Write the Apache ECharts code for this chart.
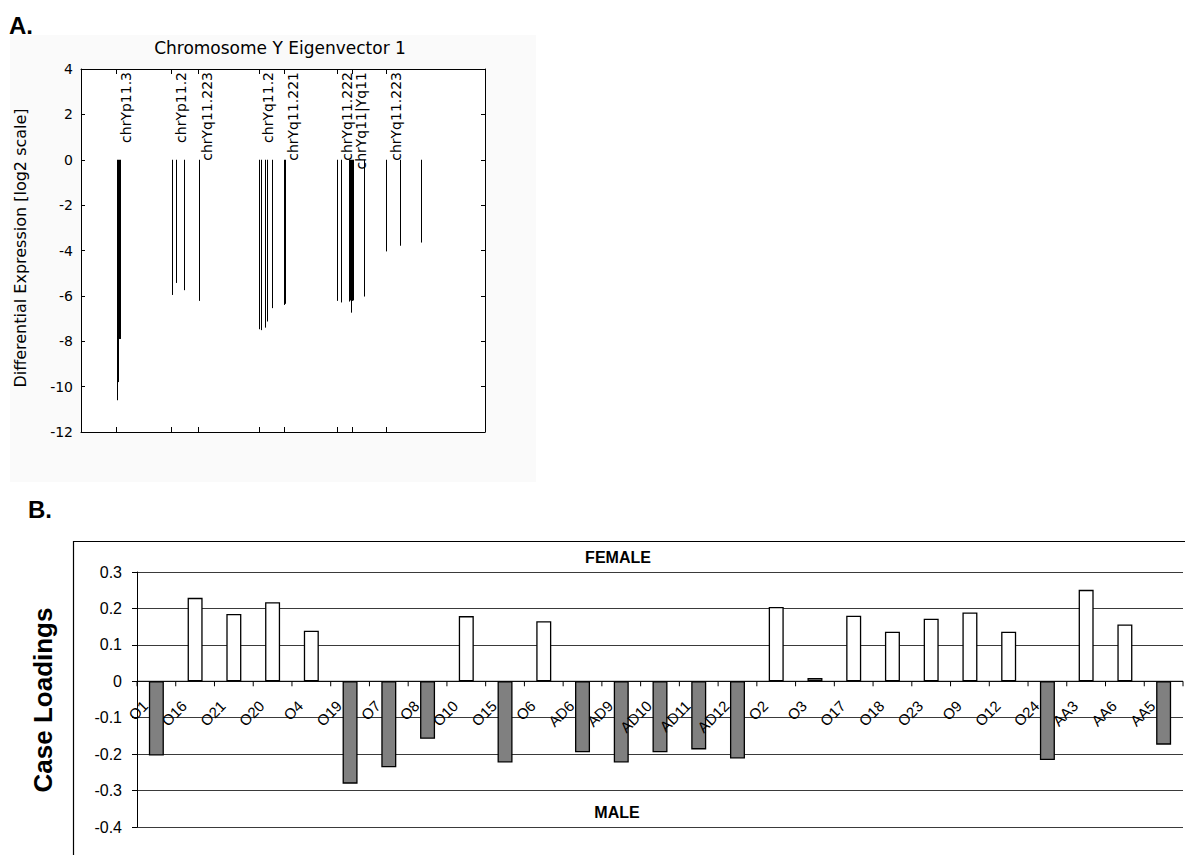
<!DOCTYPE html>
<html><head><meta charset="utf-8">
<script src="https://cdn.jsdelivr.net/npm/echarts@6/dist/echarts.min.js"></script>
<style>html,body{margin:0;padding:0;background:#fff}#c{width:1185px;height:855px}</style>
</head><body><div id="c"></div>
<script>
// ---------- Panel A: Chromosome Y Eigenvector 1 ----------
const chrTickPositions = [8.91, 22.52, 29.08, 44.06, 50.25, 63.61, 67.2, 75.74];
const chrTickLabels = ['chrYp11.3', 'chrYp11.2', 'chrYq11.223', 'chrYq11.2', 'chrYq11.221', 'chrYq11.222', 'chrYq11|Yq11', 'chrYq11.223'];
const probePositions = [9.03, 9.28, 9.53, 9.78,
  22.6, 23.7, 25.6, 29.3,
  44.06, 44.63, 45.72, 46.11, 47.35, 50.32, 50.62,
  63.54, 64.6, 66.34, 66.61, 66.86, 67.13, 67.4, 70.05,
  75.67, 79.03, 84.23];
const probeValues = [-10.6, -9.8, -7.9, -7.9,
  -5.96, -5.43, -5.75, -6.22,
  -7.47, -7.51, -7.40, -7.13, -6.54, -6.40, -6.35,
  -6.22, -6.29, -6.25, -6.2, -6.74, -6.22, -6.2, -6.03,
  -4.04, -3.79, -3.65];
const aYMin = -12, aYMax = 4, aYStep = 2;

// ---------- Panel B: Case loadings ----------
const caseNames = ['O1', 'O16', 'O21', 'O20', 'O4', 'O19', 'O7', 'O8', 'O10', 'O15', 'O6', 'AD6', 'AD9', 'AD10', 'AD11', 'AD12', 'O2', 'O3', 'O17', 'O18', 'O23', 'O9', 'O12', 'O24', 'AA3', 'AA6', 'AA5'];
const caseLoadings = [-0.204, 0.229, 0.185, 0.217, 0.139, -0.281, -0.236, -0.158, 0.179, -0.223, 0.165, -0.195, -0.223, -0.195, -0.187, -0.212, 0.204, 0.009, 0.180, 0.136, 0.172, 0.189, 0.136, -0.216, 0.251, 0.156, -0.174];
const caseSex = ['M', 'F', 'F', 'F', 'F', 'M', 'M', 'M', 'F', 'M', 'F', 'M', 'M', 'M', 'M', 'M', 'F', 'M', 'F', 'F', 'F', 'F', 'F', 'M', 'F', 'F', 'M'];
const bYMin = -0.4, bYMax = 0.3, bYStep = 0.1;

const chart = echarts.init(document.getElementById('c'), null, {renderer: 'svg'});

const fontA = '"DejaVu Sans", sans-serif';
const fontB = '"Liberation Sans", Arial, sans-serif';
const axA = {
  axisLine: {show: true, onZero: false, lineStyle: {color: '#000', width: 1}},
  splitLine: {show: false}
};
const snap = (v) => Math.round(v - 0.5) + 0.5;

const option = {
  animation: false,
  backgroundColor: '#fff',
  grid: [
    {left: 81, top: 69, width: 404, height: 363, show: true, backgroundColor: '#fff', borderWidth: 0},
    {left: 137, top: 572, width: 1046, height: 255}
  ],
  xAxis: [
    Object.assign({gridIndex: 0, type: 'value', min: 0, max: 100, position: 'bottom', axisTick: {show: false}, axisLabel: {show: false}}, axA),
    Object.assign({gridIndex: 0, type: 'value', min: 0, max: 100, position: 'top', axisTick: {show: false}, axisLabel: {show: false}}, axA),
    {
      gridIndex: 1, type: 'category', data: caseNames,
      axisLine: {show: false}, axisTick: {show: false}, axisLabel: {show: false}, splitLine: {show: false}
    }
  ],
  yAxis: [
    Object.assign({gridIndex: 0, type: 'value', min: aYMin, max: aYMax, interval: aYStep, position: 'left',
      axisTick: {show: true, inside: true, length: 4, lineStyle: {color: '#000'}},
      axisLabel: {fontSize: 14, fontFamily: fontA, color: '#000', margin: 8}}, axA),
    Object.assign({gridIndex: 0, type: 'value', min: aYMin, max: aYMax, interval: aYStep, position: 'right',
      axisTick: {show: true, inside: true, length: 4, lineStyle: {color: '#000'}},
      axisLabel: {show: false}}, axA),
    {
      gridIndex: 1, type: 'value', min: bYMin, max: bYMax, interval: bYStep,
      axisLine: {show: true, onZero: false, lineStyle: {color: '#000', width: 1}},
      axisTick: {show: true, length: 5, lineStyle: {color: '#000'}},
      axisLabel: {fontSize: 16, fontFamily: fontB, color: '#000', margin: 15},
      splitLine: {show: true, lineStyle: {color: '#3a3a3a', width: 1}}
    }
  ],
  series: [
    {
      type: 'custom', xAxisIndex: 0, yAxisIndex: 0, z: 3,
      data: probePositions.map((p, i) => [p, probeValues[i]]),
      renderItem: function (params, api) {
        const p0 = api.coord([api.value(0), 0]);
        const p1 = api.coord([api.value(0), api.value(1)]);
        const x = snap(p0[0]);
        return {type: 'line', shape: {x1: x, y1: p0[1], x2: x, y2: p1[1]}, style: {stroke: '#000', lineWidth: 1}};
      }
    },
    {
      type: 'custom', xAxisIndex: 0, yAxisIndex: 0, z: 4,
      data: chrTickPositions.map((p) => [p, aYMax]),
      renderItem: function (params, api) {
        const top = api.coord([api.value(0), aYMax]);
        const bot = api.coord([api.value(0), aYMin]);
        const x = snap(top[0]);
        return {
          type: 'group',
          children: [
            {type: 'line', shape: {x1: x, y1: bot[1], x2: x, y2: bot[1] - 5}, style: {stroke: '#000', lineWidth: 1}},
            {type: 'line', shape: {x1: x, y1: top[1], x2: x, y2: top[1] + 5}, style: {stroke: '#000', lineWidth: 1}},
            {
              type: 'text', x: top[0] + 9, y: top[1] + 3, rotation: Math.PI / 2,
              style: {text: chrTickLabels[params.dataIndex], fill: '#000', font: '14px ' + fontA, align: 'right', verticalAlign: 'middle'}
            }
          ]
        };
      }
    },
    {
      type: 'bar', xAxisIndex: 2, yAxisIndex: 2, barWidth: 15, z: 3,
      data: caseLoadings.map((v, i) => ({
        value: v,
        itemStyle: {color: caseSex[i] === 'M' ? '#808080' : '#ffffff', borderColor: '#000', borderWidth: 1.3}
      }))
    },
    {
      // category axis drawn at the zero line (line, ticks, rotated labels)
      type: 'custom', xAxisIndex: 2, yAxisIndex: 2, z: 5,
      data: caseNames.map((n, i) => [i, 0]),
      renderItem: function (params, api) {
        const c = api.coord([api.value(0), 0]);
        const w = api.size([1, 0])[0];
        const x0 = c[0] - w / 2, x1 = c[0] + w / 2, y = c[1];
        const children = [
          {type: 'line', shape: {x1: x0, y1: y, x2: x1, y2: y}, style: {stroke: '#000', lineWidth: 1}},
          {type: 'line', shape: {x1: x0, y1: y, x2: x0, y2: y + 5}, style: {stroke: '#000', lineWidth: 1}},
          {
            type: 'text', x: c[0] - 11, y: y + 22, rotation: Math.PI / 4,
            style: {text: caseNames[params.dataIndex], fill: '#000', font: '15px ' + fontB, align: 'right', verticalAlign: 'middle'}
          }
        ];
        if (params.dataIndex === caseNames.length - 1) {
          children.push({type: 'line', shape: {x1: x1, y1: y, x2: x1, y2: y + 5}, style: {stroke: '#000', lineWidth: 1}});
        }
        return {type: 'group', children: children};
      }
    }
  ],
  graphic: [
    {type: 'rect', z: -10, shape: {x: 10, y: 35, width: 526, height: 447}, style: {fill: '#fafafa'}},
    {type: 'text', x: 9, y: 13, style: {text: 'A.', font: 'bold 24px ' + fontB, fill: '#000'}},
    {type: 'text', x: 28, y: 497, style: {text: 'B.', font: 'bold 24px ' + fontB, fill: '#000'}},
    {type: 'text', x: 280, y: 48, style: {text: 'Chromosome Y Eigenvector 1', font: '17px ' + fontA, fill: '#000', align: 'center', verticalAlign: 'middle'}},
    {type: 'text', x: 20, y: 248, rotation: Math.PI / 2, style: {text: 'Differential Expression [log2 scale]', font: '16px ' + fontA, fill: '#000', align: 'center', verticalAlign: 'middle'}},
    {type: 'rect', shape: {x: 73.5, y: 541.5, width: 1200, height: 400}, style: {fill: 'none', stroke: '#000', lineWidth: 1.2}},
    {type: 'text', x: 43, y: 700, rotation: Math.PI / 2, style: {text: 'Case Loadings', font: 'bold 26px ' + fontB, fill: '#000', align: 'center', verticalAlign: 'middle'}},
    {type: 'text', x: 618, y: 557, style: {text: 'FEMALE', font: 'bold 16px ' + fontB, fill: '#000', align: 'center', verticalAlign: 'middle'}},
    {type: 'text', x: 617, y: 812, style: {text: 'MALE', font: 'bold 16px ' + fontB, fill: '#000', align: 'center', verticalAlign: 'middle'}}
  ]
};
chart.setOption(option);
</script>
</body></html>
